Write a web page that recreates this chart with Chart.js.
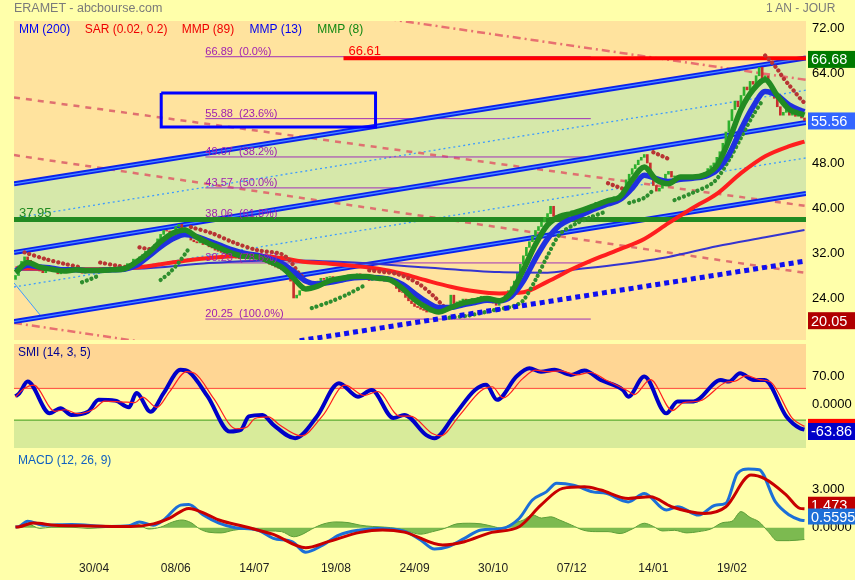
<!DOCTYPE html>
<html>
<head>
<meta charset="utf-8">
<script src="https://cdn.jsdelivr.net/npm/chart.js@4.4.0/dist/chart.umd.min.js"></script>
<style>
body { margin: 0; background: #FFFFAA; width: 855px; height: 580px; overflow: hidden; position: relative; font-family: "Liberation Sans", Arial, sans-serif; }
canvas { position: absolute; left: 0; }
.txt { position: absolute; z-index: 2; white-space: nowrap; line-height: 1; }
</style>
</head>
<body>
<div class="txt" style="left:14px;top:2px;font-size:12.5px;color:#7a7a7a">ERAMET - abcbourse.com</div>
<div class="txt" style="left:766px;top:2px;font-size:12px;color:#7a7a7a">1 AN - JOUR</div>
<div class="txt" style="left:19px;top:23px;font-size:12px">
  <span style="color:#0000ee">MM (200)</span>
  <span style="color:#ee0000;margin-left:11px">SAR (0.02, 0.2)</span>
  <span style="color:#ee0000;margin-left:11px">MMP (89)</span>
  <span style="color:#0000ee;margin-left:12px">MMP (13)</span>
  <span style="color:#118811;margin-left:12px">MMP (8)</span>
</div>
<canvas id="cPrix" width="855" height="342" style="top:0"></canvas>
<canvas id="cSmi" width="855" height="108" style="top:342px"></canvas>
<canvas id="cMacd" width="855" height="130" style="top:450px"></canvas>
<script>
// --- données (x = numéro de séance) ---
const etiquettesX = ["30/04", "08/06", "14/07", "19/08", "24/09", "30/10", "07/12", "14/01", "19/02"];
const positionsX = [26, 53, 79, 106, 132, 158, 184, 211, 237];
const X_DEBUT = -0.5, X_FIN = 261.5;

const clotures = [
  28.0, 29.7, 30.5, 31.3, 30.7, 30.0, 29.5, 29.1, 28.8, 28.5,
  28.9, 29.4, 29.3, 28.7, 28.3, 28.5, 29.0, 29.4, 28.9, 29.1,
  29.1, 28.7, 28.4, 28.8, 29.2, 28.7, 28.5, 29.0, 29.4, 29.1,
  29.3, 28.9, 28.8, 29.2, 29.5, 29.0, 29.2, 30.1, 29.8, 30.9,
  30.9, 31.3, 31.7, 32.3, 32.0, 32.8, 33.5, 34.5, 35.3, 36.0,
  35.9, 35.5, 35.9, 36.7, 37.1, 36.5, 35.5, 35.0, 34.3, 34.0,
  33.8, 34.1, 33.5, 33.5, 33.1, 32.9, 32.5, 32.3, 32.1, 31.9,
  31.7, 31.5, 31.3, 31.1, 31.0, 31.4, 31.7, 31.1, 31.3, 31.5,
  31.0, 30.8, 30.5, 30.3, 30.0, 29.8, 29.5, 29.3, 29.0, 28.7,
  28.3, 27.0, 24.0, 24.5, 25.3, 25.7, 25.5, 26.1, 26.5, 26.9,
  27.0, 27.5, 27.3, 27.7, 27.8, 27.5, 27.3, 27.4, 27.7, 28.0,
  28.1, 27.9, 28.0, 28.3, 27.8, 27.8, 27.5, 27.1, 27.5, 27.7,
  27.5, 27.3, 27.0, 27.4, 27.0, 26.5, 25.7, 25.1, 25.0, 24.1,
  23.5, 23.0, 22.5, 22.3, 22.0, 21.8, 21.5, 21.7, 21.5, 21.2,
  21.3, 21.7, 22.0, 22.5, 24.5, 23.0, 23.3, 23.5, 23.8, 23.5,
  23.7, 23.9, 23.7, 24.1, 24.3, 24.0, 24.0, 23.7, 23.1, 22.7,
  23.5, 24.0, 24.5, 25.3, 26.0, 27.0, 28.5, 30.0, 31.5, 33.0,
  34.0, 35.0, 36.0, 36.7, 37.5, 38.3, 39.0, 40.3, 38.5, 38.7,
  38.8, 38.5, 39.1, 39.0, 39.5, 39.3, 39.5, 39.7, 39.9, 40.0,
  40.0, 40.5, 41.0, 40.8, 41.3, 41.5, 41.3, 41.7, 42.0, 41.8,
  42.5, 43.5, 45.0, 46.0, 47.0, 47.7, 48.5, 49.0, 49.5, 48.0,
  45.5, 44.0, 43.0, 43.5, 45.0, 46.0, 46.5, 45.5, 45.7, 45.5,
  45.8, 45.5, 45.7, 45.3, 45.5, 45.3, 45.7, 46.0, 46.3, 47.0,
  47.5, 48.0, 49.0, 50.0, 51.5, 53.5, 55.5, 57.5, 59.0, 58.0,
  60.0, 61.5, 61.0, 62.5, 62.0, 63.5, 65.0, 63.0, 63.5, 62.0,
  60.5, 59.5, 58.0, 56.5, 57.0, 58.0, 56.5, 57.0, 56.3, 56.7,
  56.0, 55.56
];
const ouverture0 = 27.3;

const mmp8 = [[0,28.5],[4,30.3],[8,29.5],[12,29.1],[16,28.8],[20,29.0],[24,28.9],[28,28.9],[32,29.0],[36,29.2],[40,30.4],[44,32.0],[48,34.0],[52,35.5],[56,36.1],[60,34.8],[64,33.7],[68,32.8],[72,31.9],[76,31.4],[80,31.3],[84,30.5],[88,29.5],[92,27.5],[96,25.6],[100,26.1],[104,27.1],[108,27.5],[112,27.8],[116,27.8],[120,27.5],[124,27.2],[128,25.7],[132,23.7],[136,22.3],[140,21.5],[144,22.3],[148,23.1],[152,23.5],[156,23.9],[160,23.5],[164,25.0],[168,29.0],[172,33.5],[176,37.0],[180,38.5],[184,39.0],[188,39.7],[192,40.5],[196,41.3],[200,42.0],[204,45.0],[208,47.3],[212,45.0],[216,44.3],[220,45.5],[224,45.5],[228,45.9],[232,47.5],[236,52.0],[240,57.5],[244,61.0],[248,62.8],[252,60.0],[256,57.5],[260,56.7],[261,56.5]];
const mmp13 = [[0,28.8],[4,29.8],[8,29.5],[12,29.3],[16,29.0],[20,29.0],[24,28.9],[28,28.9],[32,29.0],[36,29.1],[40,29.8],[44,31.4],[48,33.1],[52,34.5],[56,35.3],[60,34.9],[64,34.1],[68,33.3],[72,32.5],[76,31.9],[80,31.6],[84,31.0],[88,30.2],[92,28.7],[96,27.0],[100,26.5],[104,26.8],[108,27.2],[112,27.6],[116,27.7],[120,27.6],[124,27.3],[128,26.4],[132,24.8],[136,23.3],[140,22.3],[144,22.3],[148,22.8],[152,23.2],[156,23.6],[160,23.5],[164,24.3],[168,27.0],[172,31.0],[176,34.5],[180,36.9],[184,38.1],[188,39.0],[192,39.9],[196,40.7],[200,41.5],[204,43.5],[208,45.8],[212,45.2],[216,44.7],[220,45.1],[224,45.3],[228,45.6],[232,46.7],[236,49.5],[240,54.0],[244,58.0],[248,60.7],[252,60.0],[256,58.3],[260,57.3],[261,57.1]];
const mmp89 = [[0,29.3],[16,29.1],[32,29.1],[40,29.4],[48,30.0],[56,30.6],[64,31.1],[72,31.4],[80,31.5],[88,31.1],[96,30.4],[104,30.1],[112,29.7],[120,29.2],[128,28.3],[136,27.1],[144,26.0],[152,25.2],[160,24.8],[168,25.0],[176,26.9],[184,29.1],[192,31.0],[200,32.7],[208,34.5],[216,37.3],[224,40.0],[232,42.5],[240,46.2],[248,49.2],[256,51.0],[261,51.8]];
const mm200 = [[0,29.0],[40,29.2],[64,30.2],[88,30.7],[112,30.3],[136,29.4],[160,28.6],[176,28.5],[184,29.0],[200,30.0],[216,31.3],[232,33.2],[248,34.8],[261,36.1]];

// SAR : segments au-dessus (rouge) et au-dessous (vert) des cours
const sarRouge = [
  [[3,32.1],[10,30.9],[16,30.1],[22,29.4]],
  [[28,30.3],[33,29.8],[38,29.4]],
  [[41,33.0],[44,32.7],[47,32.5]],
  [[58,36.6],[65,35.5],[72,33.9],[80,32.5],[88,31.8],[91,30.5],[94,28.2],[96,27.5]],
  [[117,28.9],[122,28.6],[126,28.3],[130,27.5],[134,26.3],[138,24.5],[142,22.3]],
  [[196,44.4],[199,43.8],[202,43.2]],
  [[211,49.9],[214,49.2],[217,48.5]],
  [[248,67.1],[250,66.0],[252,64.7],[254,63.1],[256,61.8],[258,60.5],[260,59.2],[261,58.7]]
];
const sarVert = [
  [[22,26.8],[25,27.4],[28,28.1]],
  [[48,27.2],[51,28.5],[54,30.3],[57,32.5]],
  [[98,22.2],[104,23.3],[110,24.7],[116,26.4]],
  [[142,20.4],[150,20.9],[158,21.8],[165,22.6],[168,23.6],[172,27.2],[176,31.5],[180,35.3],[185,37.1],[190,38.3],[195,39.3]],
  [[203,40.9],[208,41.8],[211,43.2]],
  [[218,41.4],[224,42.7],[231,44.6],[236,48.5],[240,52.5],[244,56.5],[247,59.0]]
];

// tracés (valeur au début, valeur à la fin)
const canalHaut = [44.3, 66.68];
const canalMilieu = [32.1, 55.2];
const canalBas = [19.8, 42.6];
const pointillesBleus = [[38.2, 60.94], [25.95, 48.9]];
const tiretsRouges = [[59.66, 40.36], [49.4, 28.44]];
const mixtesRouges = [[83.3, 62.78], [19.56, -1.2]];
const diagonale = [[-0.5, 26.67], [8.8, 20.53]];
const support = [[94, 16.4], [261.5, 30.58]];
const rectangle = [[48.2, 60.44], [119.1, 54.4]];
const resistance = 66.61, debutResistance = 108.5;
const niveauVert = 37.95;
const fibNiveaux = [66.89, 55.88, 49.07, 43.57, 38.06, 30.23, 20.25];
const fibPct = ["0.0%", "23.6%", "38.2%", "50.0%", "61.8%", "78.6%", "100.0%"];
const fibDebut = 62.8, fibFin = 190.3;
const prixTicks = [72, 64, 56, 48, 40, 32, 24];
const dernierCanal = 66.68, dernierCours = 55.56, plusBas = 20.05;

const smi = [[0,20],[1.3,28],[4,57],[11.3,-23],[14.9,-10],[18.5,-27],[24,-19],[27.5,11],[33,9],[37.5,-8],[40,28],[44.7,-19],[49,28],[54.6,87],[57.3,82],[63.6,19],[70.9,-69],[74.5,-65],[77.2,-31],[81.7,-27],[85.3,-52],[92.5,-86],[99.7,-31],[107,53],[113.3,19],[117.8,36],[125,-35],[128.6,-27],[135.9,-78],[138.6,-86],[144.9,-31],[152,36],[155.7,49],[159.3,11],[165.7,70],[170,91],[173.8,82],[178.3,87],[183.7,74],[188.2,85],[193.6,61],[200.9,36],[202.7,19],[208,70],[215.3,-23],[219,7],[224.3,7],[233.3,61],[236,57],[239.7,78],[244.2,61],[247.8,61],[255,-31],[259.5,-61],[261,-63.86]];
const smiSignal = [[0,18],[3,40],[6,48],[13,-18],[16.5,-14],[20.5,-24],[26,-12],[29.5,8],[35,6],[39.5,4],[42,18],[46.7,-8],[51,32],[56.6,82],[59.3,78],[65.6,14],[72.9,-62],[76.5,-58],[79.2,-36],[83.7,-32],[87.3,-52],[94.5,-80],[101.7,-28],[109,48],[115.3,22],[119.8,32],[127,-30],[130.6,-30],[137.9,-74],[140.6,-80],[146.9,-28],[154,34],[157.7,44],[161.3,16],[167.7,64],[172,86],[175.8,82],[180.3,84],[185.7,74],[190.2,80],[195.6,60],[202.9,32],[204.7,24],[210,62],[217.3,-16],[221,4],[226.3,8],[235.3,56],[238,58],[241.7,72],[246.2,62],[249.8,56],[257,-36],[261,-56]];
const smiSeuils = [40, -40];
const smiTicks = [70, 0], smiTickTextes = ["70.00", "0.0000"];

const macd = [[0,0.05],[1.3,0.1],[4,0.5],[9.5,0.2],[18.5,0.25],[31,0.1],[37.5,0.15],[41,0.45],[45.6,0.2],[49,0.6],[54.6,1.75],[57.3,1.8],[62,1.0],[67.3,0.35],[72.7,0],[80,-0.17],[85.3,-0.82],[91.6,-1.1],[96,-1.9],[101.6,-1.35],[107,-0.57],[114,-0.17],[119.6,-0.05],[128.6,-0.26],[134,-0.95],[138.6,-1.65],[143,-1.48],[148.5,-0.82],[154,-0.17],[161,-0.05],[166.6,0.72],[171,2.15],[175.6,2.78],[179,3.44],[184.6,3.3],[191,2.78],[195.4,2.66],[202.7,2.0],[208,2.66],[215.3,1.37],[219,1.63],[226,0.98],[231.5,1.75],[235,1.9],[238.8,4.2],[242.4,4.55],[246,4.5],[251.4,2.0],[256,0.98],[259.5,0.6],[261,0.5595]];
const macdSignal = [[0,0.05],[1.3,0.08],[5.9,0.36],[13,0.2],[22,0.15],[38,0.1],[45.6,0.3],[51,0.75],[57.3,1.5],[63.6,1.0],[67.3,0.6],[76,0.08],[85.3,-0.52],[96,-1.55],[103.4,-1.08],[114,-0.36],[121.4,-0.17],[128.6,-0.34],[141.3,-1.34],[148.5,-1.08],[157.5,-0.36],[166.6,0.08],[173.8,1.75],[181,3.05],[188.2,3.17],[193.6,2.92],[202.7,2.27],[210,2.4],[217,1.63],[228,1.11],[235,1.63],[243.3,4.08],[247.8,3.8],[255,2.53],[259.5,1.5],[261,1.473]];
const macdHisto = [[0,0],[4,0.3],[8,-0.05],[12,0.05],[18,0.05],[24,-0.05],[30,0.02],[36,0.05],[40,0.3],[44,-0.1],[48,0.05],[52,0.45],[55,0.6],[58,0.4],[61,-0.1],[64,-0.35],[68,-0.4],[72,-0.2],[76,-0.1],[80,-0.2],[84,-0.25],[88,-0.3],[92,-0.7],[95,-0.5],[98,-0.1],[102,0.3],[106,0.45],[110,0.4],[114,0.2],[118,0.1],[122,0.05],[126,-0.05],[130,-0.3],[134,-0.5],[138,-0.3],[142,-0.05],[146,0.3],[150,0.35],[154,0.3],[158,0.1],[161,-0.05],[164,0.3],[168,0.6],[171,1.0],[174,0.75],[177,0.85],[180,0.6],[184,0.2],[188,-0.2],[192,-0.3],[196,-0.3],[200,-0.45],[204,-0.1],[208,0.35],[211,0.1],[214,-0.25],[218,-0.2],[222,-0.4],[226,-0.3],[230,-0.1],[234,0.4],[237,0.5],[240,1.25],[243,0.8],[246,0.45],[249,-0.3],[252,-1.0],[256,-1.0],[261,-0.91]];
const macdTicks = [3, 0], macdTickTextes = ["3.000", "0.0000"];

// --- couleurs ---
const FOND = "#FFFFAA", ORANGE = "#FFE39E", VERT_BANDE = "#D6E8AA";
const POLICE = '"Liberation Sans", Arial, sans-serif';

// --- aides ---
const pts = arr => arr.map(([x, y]) => ({ x, y }));
const droite = v => [{ x: X_DEBUT, y: v[0] }, { x: X_FIN, y: v[1] }];
function ligne(data, couleur, largeur, extra) {
  return Object.assign({ type: "line", data, borderColor: couleur, borderWidth: largeur, pointRadius: 0, fill: false, tension: 0 }, extra || {});
}
function segments(liste) { // segments séparés par un trou
  const out = [];
  liste.forEach(seg => { seg.forEach(([x, y]) => out.push({ x, y })); out.push({ x: seg[seg.length - 1][0] + 0.5, y: null }); });
  return out;
}
function badge(ctx, yc, fond, texte, h) {
  h = h || 17;
  ctx.fillStyle = fond;
  ctx.fillRect(808, yc - h / 2, 47, h);
  ctx.fillStyle = "#fff";
  ctx.font = "14.5px " + POLICE;
  ctx.textAlign = "left";
  ctx.textBaseline = "middle";
  ctx.fillText(texte, 811, yc + 1);
}
function axeDroit(min, max, ticks, texte) {
  return {
    position: "right", min, max,
    grid: { display: false, drawTicks: false }, border: { display: false },
    afterFit: a => { a.width = 49; a.paddingTop = 0; a.paddingBottom = 0; },
    afterBuildTicks: a => { a.ticks = ticks.map(v => ({ value: v })); },
    ticks: { padding: 6, color: "#000", font: { size: 13, family: POLICE }, callback: texte }
  };
}
const axeX = { type: "linear", min: X_DEBUT, max: X_FIN, offset: false, display: false };
const base = { responsive: false, animation: false, events: [], plugins: { legend: { display: false }, tooltip: { enabled: false } } };

// --- bougies : ouverture = clôture précédente ---
const ouvertures = clotures.map((c, i) => i === 0 ? ouverture0 : clotures[i - 1]);
const bougies = {
  type: "bar",
  data: clotures.map((c, i) => ({ x: i, y: [ouvertures[i], c] })),
  backgroundColor: clotures.map((c, i) => c >= ouvertures[i] ? "#2DB02D" : "#C82E2E"),
  barThickness: 2, grouped: false, order: 6
};

const lissage = { cubicInterpolationMode: "monotone" };
const pointsSar = { borderDash: [0.1, 4.9], borderCapStyle: "round", spanGaps: false, tension: 0.3, order: 3 };
const datasetsPrix = [
  ligne(droite(pointillesBleus[0]), "#3D9BFF", 1.3, { borderDash: [2, 3], order: 14 }),
  ligne(droite(pointillesBleus[1]), "#3D9BFF", 1.3, { borderDash: [2, 3], order: 14 }),
  ligne(droite(tiretsRouges[0]), "#E07070", 2.5, { borderDash: [6, 6], order: 13 }),
  ligne(droite(tiretsRouges[1]), "#E07070", 2.5, { borderDash: [6, 6], order: 13 }),
  ligne(droite(mixtesRouges[0]), "#E87070", 2.5, { borderDash: [8, 4, 2, 4], order: 13 }),
  ligne(droite(mixtesRouges[1]), "#E87070", 2.5, { borderDash: [8, 4, 2, 4], order: 13 }),
  ligne(pts(diagonale), "#3D9BFF", 1, { order: 13 }),
  ...fibNiveaux.map(v => ligne([{ x: fibDebut, y: v }, { x: fibFin, y: v }], "#A030B8", 1, { order: 12 })),
  ...[canalHaut, canalMilieu, canalBas].map(c => ligne(droite(c), "#0A22EE", 5, { order: 11 })),
  ...[canalHaut, canalMilieu, canalBas].map(c => ligne(droite(c), "#4A8EFF", 1.3, { order: 10 })),
  ligne([{ x: X_DEBUT, y: niveauVert }, { x: X_FIN, y: niveauVert }], "#228A22", 5, { order: 9 }),
  ligne([{ x: debutResistance, y: resistance }, { x: X_FIN, y: resistance }], "#FF0000", 4, { order: 8 }),
  bougies,
  ligne(pts(mm200), "#3434D0", 2, Object.assign({ order: 5 }, lissage)),
  ligne(pts(mmp89), "#FF1E1E", 4, Object.assign({ order: 4 }, lissage)),
  ligne(segments(sarRouge), "#B83434", 4.2, pointsSar),
  ligne(segments(sarVert), "#2E8E2E", 4.2, pointsSar),
  ligne(pts(mmp13), "#2030E0", 5.5, Object.assign({ order: 2 }, lissage)),
  ligne(pts(mmp8), "#228B22", 5.5, Object.assign({ order: 1 }, lissage)),
  ligne(pts(support), "#1010F0", 5, { borderDash: [5, 4], order: 0 }),
  ligne([{ x: rectangle[0][0], y: rectangle[0][1] }, { x: rectangle[1][0], y: rectangle[0][1] }, { x: rectangle[1][0], y: rectangle[1][1] },
         { x: rectangle[0][0], y: rectangle[1][1] }, { x: rectangle[0][0], y: rectangle[0][1] }], "#0000FF", 3, { order: 0 })
];

const decorPrix = {
  id: "decorPrix",
  beforeDatasetsDraw(chart) {
    const { ctx, chartArea: a, scales: { x, y } } = chart;
    ctx.save();
    ctx.fillStyle = ORANGE;
    ctx.fillRect(a.left, a.top, a.width, a.height);
    ctx.beginPath(); ctx.rect(a.left, a.top, a.width, a.height); ctx.clip();
    ctx.beginPath(); // bande verte du canal
    ctx.moveTo(x.getPixelForValue(X_DEBUT), y.getPixelForValue(canalHaut[0]));
    ctx.lineTo(x.getPixelForValue(X_FIN), y.getPixelForValue(canalHaut[1]));
    ctx.lineTo(x.getPixelForValue(X_FIN), y.getPixelForValue(canalBas[1]));
    ctx.lineTo(x.getPixelForValue(diagonale[1][0]), y.getPixelForValue(diagonale[1][1]));
    ctx.lineTo(x.getPixelForValue(diagonale[0][0]), y.getPixelForValue(diagonale[0][1]));
    ctx.closePath();
    ctx.fillStyle = VERT_BANDE;
    ctx.fill();
    ctx.restore();
  },
  afterDatasetsDraw(chart) {
    const { ctx, scales: { x, y } } = chart;
    ctx.save();
    ctx.textAlign = "left";
    ctx.textBaseline = "alphabetic";
    ctx.font = "11px " + POLICE;
    ctx.fillStyle = "#A020B0";
    fibNiveaux.forEach((v, i) => ctx.fillText(v.toFixed(2) + "  (" + fibPct[i] + ")", x.getPixelForValue(fibDebut), y.getPixelForValue(v) - 2));
    ctx.font = "13px " + POLICE;
    ctx.fillStyle = "#FF0000";
    ctx.fillText(resistance.toFixed(2), x.getPixelForValue(debutResistance) + 5, y.getPixelForValue(resistance) - 3);
    ctx.fillStyle = "#228A22";
    ctx.fillText(niveauVert.toFixed(2), 19, y.getPixelForValue(niveauVert) - 3);
    ctx.restore();
  },
  afterDraw(chart) {
    const { ctx, scales: { y } } = chart;
    ctx.save();
    badge(ctx, y.getPixelForValue(dernierCanal) + 1.5, "#007A00", dernierCanal.toFixed(2));
    badge(ctx, y.getPixelForValue(dernierCours) + 0.5, "#3366FF", dernierCours.toFixed(2));
    badge(ctx, y.getPixelForValue(plusBas) + 0.5, "#B00000", plusBas.toFixed(2));
    ctx.restore();
  }
};

new Chart(document.getElementById("cPrix"), {
  type: "line",
  data: { datasets: datasetsPrix },
  options: Object.assign({}, base, {
    layout: { padding: { left: 14, top: 21, right: 0, bottom: 2 } },
    scales: { x: axeX, y: axeDroit(16.53, 73.24, prixTicks, v => v.toFixed(2)) }
  }),
  plugins: [decorPrix]
});

// --- SMI ---
new Chart(document.getElementById("cSmi"), {
  type: "line",
  data: { datasets: [
    ligne(pts(smiSignal), "#FF2020", 1.2, Object.assign({ order: 0 }, lissage)),
    ligne(pts(smi), "#0000C8", 4, Object.assign({ order: 1 }, lissage))
  ] },
  options: Object.assign({}, base, {
    layout: { padding: { left: 14, top: 2, right: 0, bottom: 2 } },
    scales: { x: axeX, y: axeDroit(-110.6, 152, smiTicks, v => smiTickTextes[smiTicks.indexOf(v)]) }
  }),
  plugins: [{
    id: "decorSmi",
    beforeDatasetsDraw(chart) {
      const { ctx, chartArea: a, scales: { y } } = chart;
      const yh = y.getPixelForValue(smiSeuils[0]), yb = y.getPixelForValue(smiSeuils[1]);
      ctx.save();
      ctx.fillStyle = "#FFD694"; ctx.fillRect(a.left, a.top, a.width, yh - a.top);
      ctx.fillStyle = FOND; ctx.fillRect(a.left, yh, a.width, yb - yh);
      ctx.fillStyle = "#D8EB9A"; ctx.fillRect(a.left, yb, a.width, a.bottom - yb);
      ctx.fillStyle = "#FF5A4A"; ctx.fillRect(a.left, yh - 0.5, a.width, 1.2);
      ctx.fillStyle = "#5AAA30"; ctx.fillRect(a.left, yb - 0.5, a.width, 1.2);
      ctx.font = "12px " + POLICE; ctx.fillStyle = "#000090";
      ctx.textBaseline = "middle"; ctx.textAlign = "left";
      ctx.fillText("SMI (14, 3, 5)", 18, a.top + 9);
      ctx.restore();
    },
    afterDraw(chart) {
      const { ctx, scales: { y } } = chart;
      ctx.save();
      badge(ctx, y.getPixelForValue(smiSignal[smiSignal.length - 1][1]) + 1, "#FF0000", "");
      badge(ctx, y.getPixelForValue(smi[smi.length - 1][1]) + 2, "#0000C8", smi[smi.length - 1][1].toFixed(2));
      ctx.restore();
    }
  }]
});

// --- MACD ---
new Chart(document.getElementById("cMacd"), {
  type: "line",
  data: { datasets: [
    ligne(pts(macdHisto), "#5C9E38", 1, Object.assign({ fill: "origin", backgroundColor: "rgba(110,178,70,0.9)", order: 3 }, lissage)),
    ligne(pts(macd), "#1B6FD8", 3, Object.assign({ order: 2 }, lissage)),
    ligne(pts(macdSignal), "#C80000", 3, Object.assign({ order: 1 }, lissage))
  ] },
  options: Object.assign({}, base, {
    layout: { padding: { left: 14, top: 2, right: 0, bottom: 2 } },
    scales: {
      x: {
        type: "linear", min: X_DEBUT, max: X_FIN, offset: false,
        grid: { display: false, drawTicks: false }, border: { display: false },
        afterFit: a => { a.height = 22; a.paddingLeft = 0; a.paddingRight = 0; },
        afterBuildTicks: a => { a.ticks = positionsX.map(v => ({ value: v })); },
        ticks: { autoSkip: false, maxRotation: 0, padding: 5, color: "#222", font: { size: 12, family: POLICE },
                 callback: v => etiquettesX[positionsX.indexOf(v)] }
      },
      y: axeDroit(-2.19, 5.87, macdTicks, v => macdTickTextes[macdTicks.indexOf(v)])
    }
  }),
  plugins: [{
    id: "decorMacd",
    beforeDatasetsDraw(chart) {
      const { ctx, chartArea: a } = chart;
      ctx.save();
      ctx.font = "12px " + POLICE; ctx.fillStyle = "#1060C0";
      ctx.textBaseline = "middle"; ctx.textAlign = "left";
      ctx.fillText("MACD (12, 26, 9)", 18, a.top + 9);
      ctx.restore();
    },
    afterDraw(chart) {
      const { ctx, scales: { y } } = chart;
      ctx.save();
      const s = macdSignal[macdSignal.length - 1][1], m = macd[macd.length - 1][1];
      badge(ctx, y.getPixelForValue(s) - 4, "#C00000", s.toFixed(3), 16);
      badge(ctx, y.getPixelForValue(m) - 4, "#1E6FD8", m.toFixed(4), 16);
      ctx.restore();
    }
  }]
});
</script>
</body>
</html>
